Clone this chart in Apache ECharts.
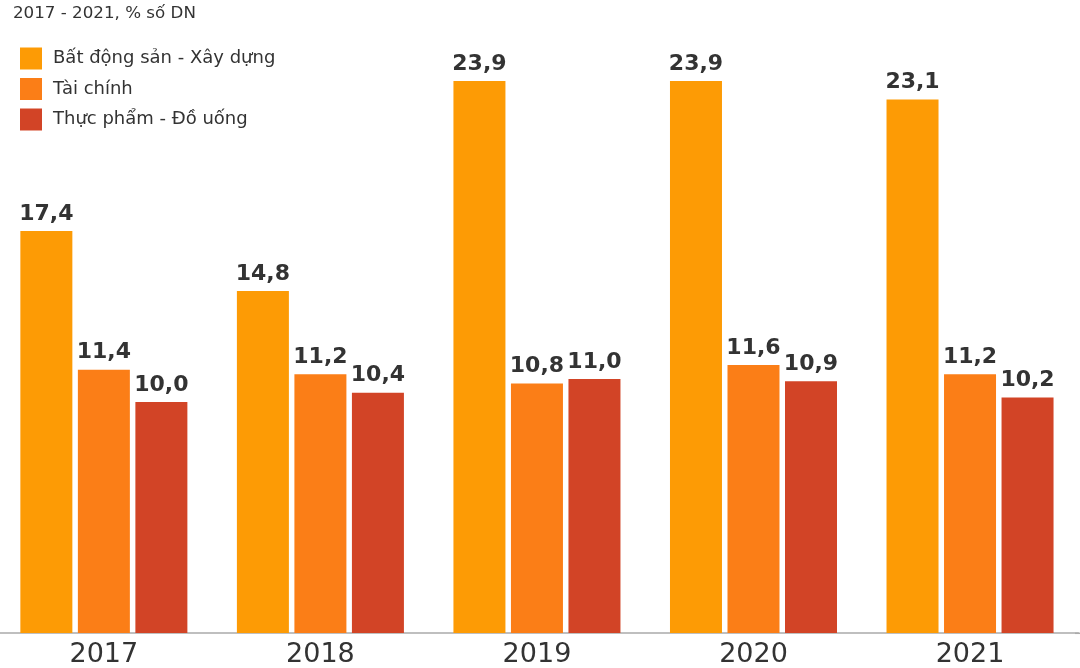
<!DOCTYPE html>
<html>
<head>
<meta charset="utf-8">
<script src="https://cdn.jsdelivr.net/npm/echarts@6/dist/echarts.min.js"></script>
<style>
html,body{margin:0;padding:0;background:#fff;overflow:hidden;}
#c{position:absolute;left:-5px;top:0;width:1090px;height:668px;}
</style>
</head>
<body>
<div id="c"></div>
<script>
const years = ['2017', '2018', '2019', '2020', '2021'];
const batDongSan = [17.4, 14.8, 23.9, 23.9, 23.1];
const taiChinh = [11.4, 11.2, 10.8, 11.6, 11.2];
const thucPham = [10.0, 10.4, 11.0, 10.9, 10.2];
const seriesNames = ['Bất động sản - Xây dựng', 'Tài chính', 'Thực phẩm - Đồ uống'];
const colors = ['#FD9B05', '#FB7E17', '#D24426'];
const FONT = '"DejaVu Sans", sans-serif';
const OFF = 5; // container shifted left by this many px

const chart = echarts.init(document.getElementById('c'), null, {renderer: 'canvas'});
const lbl = {
  show: true, position: 'top', distance: 6,
  fontFamily: FONT, fontWeight: 'bold', fontSize: 22, color: '#333',
  formatter: p => p.value.toFixed(1).replace('.', ',')
};
const mk = (name, data, i) => ({
  name, type: 'bar', data, barWidth: 52, barGap: '10.6%',
  itemStyle: {color: colors[i]}, label: lbl
});
chart.setOption({
  animation: false,
  title: {
    text: '2017 - 2021, % số DN', left: 13 + OFF, top: 5, padding: 0,
    textStyle: {fontFamily: FONT, fontSize: 16.7, fontWeight: 'normal', color: '#333'}
  },
  legend: {
    orient: 'vertical', left: 20 + OFF, top: 47.5, padding: 0,
    itemWidth: 22, itemHeight: 22, itemGap: 8.5,
    icon: 'rect', data: seriesNames,
    textStyle: {fontFamily: FONT, fontSize: 18, color: '#333', padding: [0, 0, 0, 6]}
  },
  grid: {left: 0.6, right: 6.7, top: 32.4, bottom: 34.7, containLabel: false},
  xAxis: {
    type: 'category', data: years,
    axisLine: {lineStyle: {color: '#aaa', width: 1.5}},
    axisTick: {show: false},
    axisLabel: {fontFamily: FONT, fontSize: 27, color: '#333', margin: 8}
  },
  yAxis: {type: 'value', min: 0, max: 26, show: false, splitLine: {show: false}},
  series: [mk(seriesNames[0], batDongSan, 0), mk(seriesNames[1], taiChinh, 1), mk(seriesNames[2], thucPham, 2)],
  graphic: [{
    type: 'line', silent: true, z: 100,
    shape: {x1: 1080, y1: 633.3, x2: 1090, y2: 633.3},
    style: {stroke: '#aaa', lineWidth: 1.5}
  }]
});
</script>
</body>
</html>
